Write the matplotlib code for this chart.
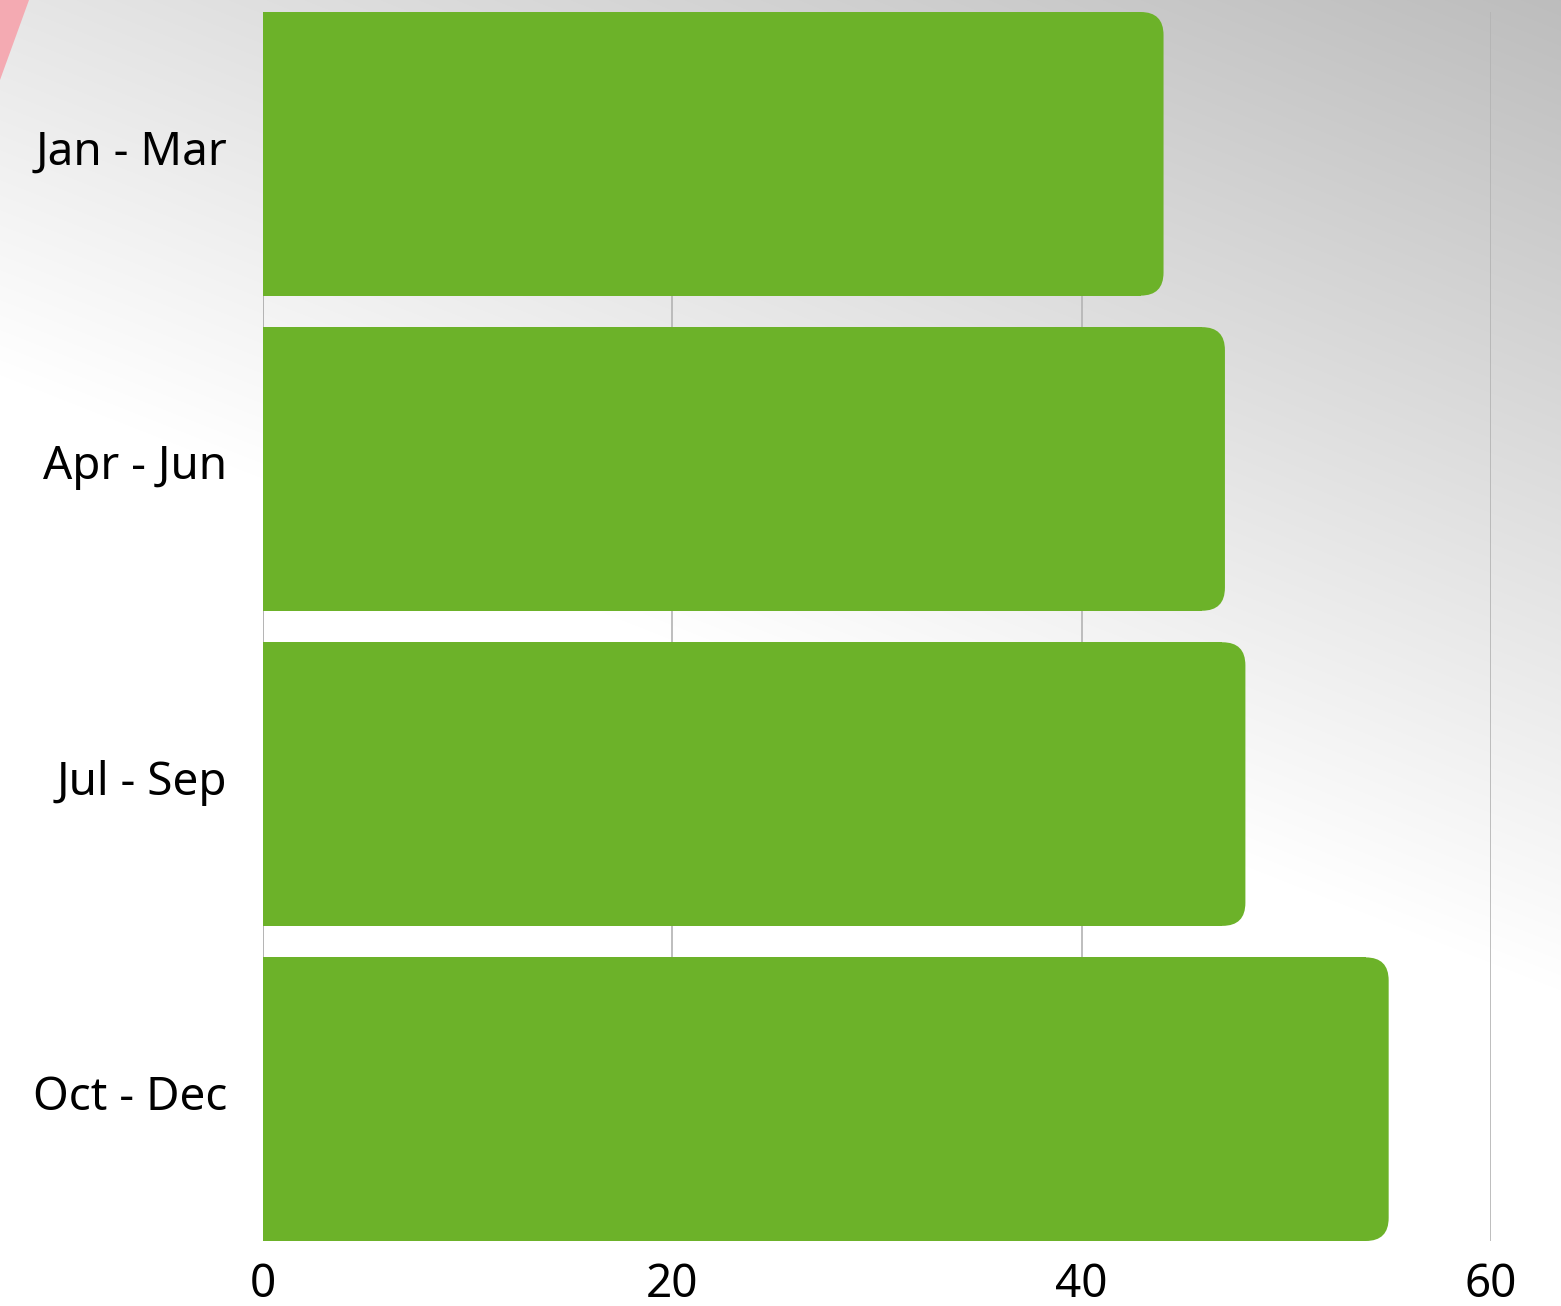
import numpy as np
import matplotlib
matplotlib.use("Agg")
import matplotlib.pyplot as plt
import matplotlib.transforms as mtransforms
from matplotlib.patches import FancyBboxPatch, Polygon

quarters = ["Jan - Mar", "Apr - Jun", "Jul - Sep", "Oct - Dec"]
values = [44, 47, 48, 55]
x_ticks = [0, 20, 40, 60]

W, H = 1561, 1306
plt.rcParams['font.family'] = ['Noto Sans', 'DejaVu Sans']

fig = plt.figure(figsize=(W / 100, H / 100), dpi=100)

# background gradient: dark top-right, white towards bottom-left
bg = fig.add_axes([0, 0, 1, 1], zorder=-10)
xx, yy = np.meshgrid(np.arange(W), np.arange(H))
gray = np.clip(230 - 0.0263 * xx + 0.0667 * yy, 0, 255) / 255.0
bg.imshow(np.dstack([gray, gray, gray]), extent=(0, W, H, 0), aspect="auto")
bg.add_patch(Polygon([[0, 0], [29, 0], [0, 80]], closed=True,
                     facecolor="#f4aab2", edgecolor="none"))
bg.set_xlim(0, W)
bg.set_ylim(H, 0)
bg.axis("off")

ax = fig.add_axes([263 / W, 1 - 1241 / H, (1491 - 263) / W, (1241 - 12) / H])
ax.patch.set_alpha(0)

bar_color = "#6cb229"
bars = ax.barh(range(len(quarters)), values, height=0.9, color=bar_color, zorder=3)

r = 1.12
aspect = 0.0652
for b in bars:
    x0, y0, w, h = b.get_x(), b.get_y(), b.get_width(), b.get_height()
    b.set_width(w - r)
    ax.add_patch(FancyBboxPatch((x0, y0), w, h,
                                boxstyle=f"round,pad=0,rounding_size={r}",
                                mutation_aspect=aspect,
                                facecolor=bar_color, edgecolor="none", zorder=3))

ax.set_xlim(0, 60)
ax.set_ylim(3.45, -0.45)
ax.set_xticks(x_ticks)
ax.set_yticks(range(len(quarters)))
ax.set_yticklabels(quarters)
ax.tick_params(axis="both", length=0, labelsize=33)
ax.tick_params(axis="y", pad=26)
ax.tick_params(axis="x", pad=15)
ax.grid(axis="x", color="#b3b3b3", linewidth=1.2, zorder=0)
for s in ax.spines.values():
    s.set_visible(False)
ax.axvline(0, color="#b3b3b3", linewidth=1.2, zorder=1)

# nudge the quarter labels up a little
shift = mtransforms.ScaledTranslation(0, 7 / 100, fig.dpi_scale_trans)
for lab in ax.get_yticklabels():
    lab.set_transform(lab.get_transform() + shift)

fig.savefig("out.png", dpi=100)
